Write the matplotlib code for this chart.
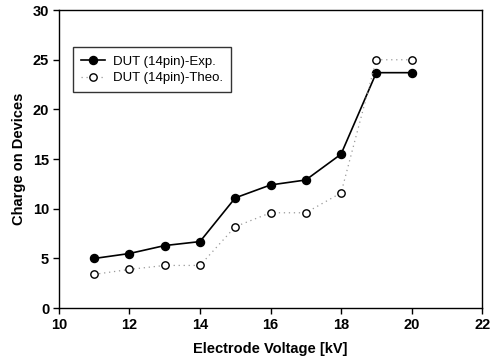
import matplotlib
matplotlib.use("Agg")
import matplotlib.pyplot as plt

voltage = [11, 12, 13, 14, 15, 16, 17, 18, 19, 20]
charge_exp = [5.0, 5.5, 6.3, 6.7, 11.1, 12.4, 12.9, 15.5, 23.7, 23.7]
charge_theo = [3.4, 3.9, 4.3, 4.3, 8.2, 9.6, 9.6, 11.6, 25.0, 25.0]
label_exp = "DUT (14pin)-Exp."
label_theo = "DUT (14pin)-Theo."

plt.rcParams['font.family'] = ['Liberation Sans', 'DejaVu Sans']

fig = plt.figure(figsize=(4.95, 3.6), dpi=100)
ax = fig.add_axes([0.119, 0.144, 0.855, 0.828])

ax.plot(voltage, charge_exp, color='black', lw=1.2, marker='o', ms=5.8,
        markerfacecolor='black', markeredgecolor='black', label=label_exp)
ax.plot(voltage, charge_theo, color='#999999', lw=0.9, ls=(0, (1, 3)), marker='o', ms=5.3,
        markerfacecolor='white', markeredgecolor='black', markeredgewidth=1.0,
        label=label_theo)

ax.set_xlim(10, 22)
ax.set_ylim(0, 30)
ax.set_xticks([10, 12, 14, 16, 18, 20, 22])
ax.set_yticks([0, 5, 10, 15, 20, 25, 30])
ax.tick_params(direction='out', length=4, width=1, labelsize=10.5, pad=3)
for lab in ax.get_xticklabels() + ax.get_yticklabels():
    lab.set_fontweight('bold')
for s in ax.spines.values():
    s.set_linewidth(1.0)

ax.set_xlabel("Electrode Voltage [kV]", fontsize=10.5, fontweight='bold', labelpad=7)
ax.set_ylabel("Charge on Devices", fontsize=10.5, fontweight='bold', labelpad=5)

leg = ax.legend(loc='upper left', bbox_to_anchor=(0.018, 0.897), fontsize=9.5,
                frameon=True, fancybox=False, edgecolor='black', handlelength=1.8,
                handletextpad=0.6, borderpad=0.6, labelspacing=0.35)
leg.get_frame().set_linewidth(1.0)

fig.savefig("out.png", dpi=100)
